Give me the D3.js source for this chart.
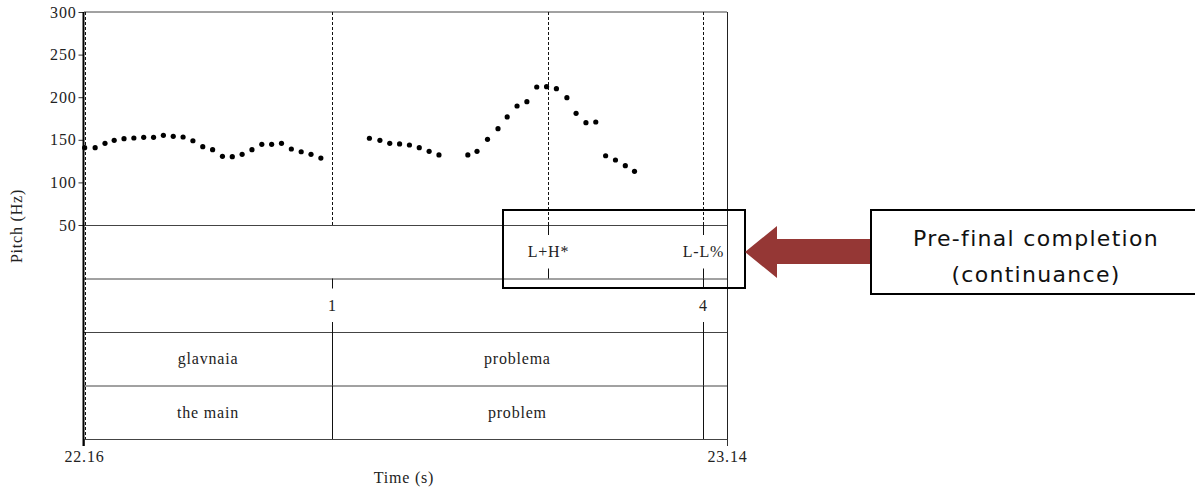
<!DOCTYPE html>
<html>
<head>
<meta charset="utf-8">
<script src="https://cdn.jsdelivr.net/npm/d3@7"></script>
<style>
  html, body { margin: 0; padding: 0; background: #fff; }
  svg { display: block; }
  .serif { font-family: "Liberation Serif", "Times New Roman", serif; font-size: 16px; letter-spacing: 0.8px; fill: #222; }
</style>
</head>
<body>
<script>
// ---------- data ----------
const pitchTimes = [22.161,22.177,22.192,22.206,22.221,22.236,22.251,22.266,22.281,22.296,22.311,22.326,22.341,22.356,22.371,22.386,22.401,22.416,22.431,22.446,22.461,22.476,22.491,22.506,22.521,
  22.595,22.611,22.626,22.641,22.656,22.671,22.686,22.701,22.745,22.759,22.775,22.791,22.805,22.820,22.835,22.850,22.865,22.880,22.896,22.910,22.925,22.940,22.955,22.970,22.985,22.999];
const pitchHz = [140.7,140.7,145.9,149.4,151.3,152.1,152.9,152.9,155.3,154.1,153.3,148.9,141.9,138.4,130.6,130.2,133,138.4,144.7,144.7,145.9,139.2,136,133,128.6,
  151.8,149.4,145.9,145.1,143.9,140.7,136.5,132.2,132.2,136.5,150.6,163,176.8,189.7,194.7,212,212.3,210,199.4,181.1,170.1,170.9,131.3,126.3,119.6,113];
const yTicks = [50, 100, 150, 200, 250, 300];
const xTicks = [22.16, 23.14];
const tiers = ["tones", "breaks", "words", "gloss"];
const toneTimes = [22.867, 23.103];
const toneLabels = ["L+H*", "L-L%"];
const breakTimes = [22.538, 23.103];
const breakLabels = ["1", "4"];
const wordBounds = [22.16, 22.538, 23.103, 23.14];
const words = ["glavnaia", "problema", ""];
const gloss = ["the main", "problem", ""];
const calloutLines = ["Pre-final completion", "(continuance)"];

// ---------- layout ----------
const W = 1195, H = 492;
const svg = d3.select("body").append("svg").attr("width", W).attr("height", H);

const x = d3.scaleLinear().domain([22.16, 23.14]).range([84, 727]);
const y = d3.scaleLinear().domain([50, 300]).range([225, 12]);
const tierY = d3.scaleBand().domain(tiers).range([225, 439]);
const lineCol = "#444";
const dash = "3,2";

// pitch panel frame top
svg.append("line").attr("x1", x(22.16)).attr("x2", x(23.14)).attr("y1", y(300)).attr("y2", y(300))
  .attr("stroke", lineCol).attr("stroke-width", 1);

// tier horizontal lines
tiers.forEach(t => {
  svg.append("line").attr("x1", x(22.16)).attr("x2", x(23.14))
    .attr("y1", tierY(t) + 0.5).attr("y2", tierY(t) + 0.5)
    .attr("stroke", lineCol).attr("stroke-width", 1);
});
svg.append("line").attr("x1", x(22.16)).attr("x2", x(23.14))
  .attr("y1", 439.5).attr("y2", 439.5).attr("stroke", lineCol).attr("stroke-width", 1);

// right border
svg.append("line").attr("x1", x(23.14) + 0.5).attr("x2", x(23.14) + 0.5).attr("y1", 12).attr("y2", 446)
  .attr("stroke", "#222").attr("stroke-width", 1);

// dashed verticals in pitch area
const dashedTimes = [22.538, 22.867, 23.103];
svg.selectAll(".pd").data(dashedTimes).join("line")
  .attr("x1", d => Math.round(x(d)) + 0.5).attr("x2", d => Math.round(x(d)) + 0.5)
  .attr("y1", y(300)).attr("y2", y(50))
  .attr("stroke", "#111").attr("stroke-width", 1).attr("stroke-dasharray", dash);

// left dashed start boundary
svg.append("line").attr("x1", 85.5).attr("x2", 85.5).attr("y1", 12).attr("y2", 439)
  .attr("stroke", "#111").attr("stroke-width", 1).attr("stroke-dasharray", dash);

// point tiers: ticks at top/bottom and label in middle
function pointTier(tier, times, labels) {
  const top = tierY(tier), bot = top + tierY.bandwidth();
  const g = svg.append("g");
  times.forEach((t, i) => {
    const px = Math.round(x(t)) + 0.5;
    g.append("line").attr("x1", px).attr("x2", px).attr("y1", top).attr("y2", top + 10).attr("stroke", "#111");
    g.append("line").attr("x1", px).attr("x2", px).attr("y1", bot - 10).attr("y2", bot).attr("stroke", "#111");
    g.append("text").attr("class", "serif").attr("x", px).attr("y", (top + bot) / 2)
      .attr("dy", "0.35em").attr("text-anchor", "middle").text(labels[i]);
  });
}
pointTier("tones", toneTimes, toneLabels);
pointTier("breaks", breakTimes, breakLabels);

// interval tiers
function intervalTier(tier, bounds, labels) {
  const top = tierY(tier), bot = top + tierY.bandwidth();
  const g = svg.append("g");
  bounds.slice(1, -1).forEach(t => {
    const px = Math.round(x(t)) + 0.5;
    g.append("line").attr("x1", px).attr("x2", px).attr("y1", top).attr("y2", bot).attr("stroke", "#111");
  });
  labels.forEach((lab, i) => {
    if (!lab) return;
    g.append("text").attr("class", "serif").attr("x", (x(bounds[i]) + x(bounds[i + 1])) / 2)
      .attr("y", (top + bot) / 2).attr("dy", "0.35em").attr("text-anchor", "middle").text(lab);
  });
}
intervalTier("words", wordBounds, words);
intervalTier("gloss", wordBounds, gloss);

// y axis
const yAxis = svg.append("g").attr("transform", "translate(83.5,0)")
  .call(d3.axisLeft(y).tickValues(yTicks).tickSize(5).tickPadding(2).tickFormat(d3.format("d")));
yAxis.select(".domain").remove();
yAxis.selectAll(".tick line").attr("stroke", "#333");
yAxis.selectAll(".tick text").attr("class", "serif").attr("font-size", null).attr("font-family", null).attr("fill", "#222");
svg.append("line").attr("x1", 83.5).attr("x2", 83.5).attr("y1", 12).attr("y2", 446)
  .attr("stroke", "#000").attr("stroke-width", 2);

// x axis (only end labels)
const xAxis = svg.append("g").attr("transform", "translate(0,439)")
  .call(d3.axisBottom(x).tickValues(xTicks).tickSize(7).tickPadding(5).tickFormat(d3.format(".2f")));
xAxis.select(".domain").remove();
xAxis.selectAll(".tick line").attr("stroke", "#333");
xAxis.selectAll(".tick text").attr("class", "serif").attr("font-size", null).attr("font-family", null).attr("fill", "#222");

// axis titles
svg.append("text").attr("class", "serif").attr("text-anchor", "middle")
  .attr("transform", "translate(22,226) rotate(-90)").text("Pitch (Hz)");
svg.append("text").attr("class", "serif").attr("text-anchor", "middle")
  .attr("x", 404).attr("y", 483).text("Time (s)");

// pitch points
svg.append("g").selectAll("circle").data(pitchTimes).join("circle")
  .attr("cx", (d) => x(d)).attr("cy", (d, i) => y(pitchHz[i]))
  .attr("r", 2.6).attr("fill", "#000");

// annotation box around tones
svg.append("rect").attr("x", 503).attr("y", 210).attr("width", 242).attr("height", 78)
  .attr("fill", "none").attr("stroke", "#000").attr("stroke-width", 2);

// arrow
const arrowPts = [[745, 252], [777, 226], [777, 239], [871, 239], [871, 264], [777, 264], [777, 278]];
svg.append("polygon").attr("points", arrowPts.map(p => p.join(",")).join(" ")).attr("fill", "#953735");

// callout box
svg.append("rect").attr("x", 871).attr("y", 210).attr("width", 340).attr("height", 84)
  .attr("fill", "#fff").attr("stroke", "#000").attr("stroke-width", 2);
svg.append("g").selectAll("text").data(calloutLines).join("text")
  .attr("x", 1036).attr("y", (d, i) => 246 + i * 36).attr("text-anchor", "middle")
  .attr("font-family", "DejaVu Sans, sans-serif").attr("font-size", 22).attr("letter-spacing", "1.3px")
  .attr("fill", "#111").text(d => d);
</script>
</body>
</html>
